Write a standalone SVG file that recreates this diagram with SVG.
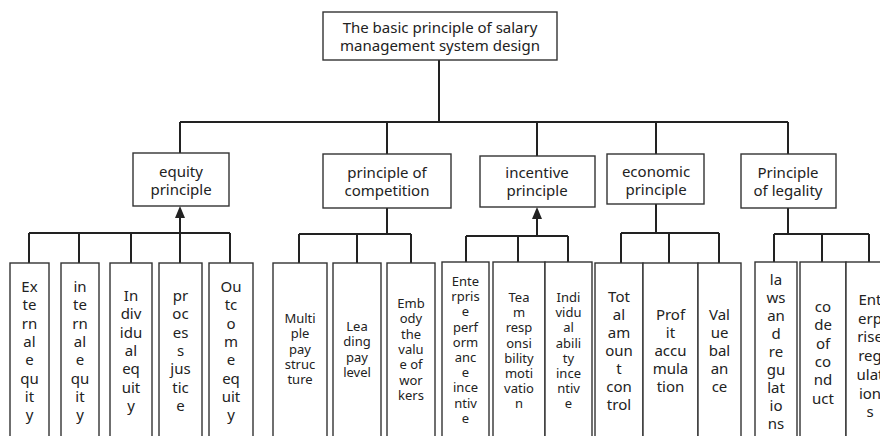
<svg xmlns="http://www.w3.org/2000/svg" width="880" height="436" viewBox="0 0 880 436">
<style>
.box{fill:#fff;stroke:#333;stroke-width:1.4}
.ln{fill:none;stroke:#222;stroke-width:2}
.t{font-family:"Noto Sans","Open Sans","DejaVu Sans",sans-serif;font-size:15px;fill:#222;text-anchor:middle}
.s{font-size:13px}
</style>
<defs>
<marker id="ah" viewBox="0 0 10 12" refX="5" refY="0" markerWidth="10" markerHeight="12" markerUnits="userSpaceOnUse" orient="auto-start-reverse">
<path d="M0,12 L5,0 L10,12 Z" fill="#222"/>
</marker>
</defs>
<rect width="880" height="436" fill="#fff"/>
<g id="connectors">
<path class="ln" d="M439,60 V122 M180,122 H788 M180,122 V153 M387,122 V154 M537,122 V156 M656,122 V154 M788,122 V154"/>
<path class="ln" d="M180,233 V218 M29,233 H230 M29,233 V263 M79,233 V263 M131,233 V263 M180,233 V263 M230,233 V263"/>
<path d="M180,206 L175,218 L185,218 Z" fill="#222"/>
<path class="ln" d="M387,208 V234 M299,234 H411 M299,234 V263 M357,234 V263 M411,234 V263"/>
<path class="ln" d="M537,219 V236 M466,236 H568 M466,236 V262 M518,236 V262 M568,236 V262"/>
<path d="M537,207 L532,219 L542,219 Z" fill="#222"/>
<path class="ln" d="M656,204 V233 M621,233 H719 M621,233 V263 M669,233 V263 M719,233 V263"/>
<path class="ln" d="M788,208 V234 M774,234 H869 M774,234 V262 M822,234 V262 M869,234 V262"/>
</g>
<g id="root">
<rect class="box" x="323" y="12" width="234" height="48"/>
<text class="t"><tspan x="440" y="33">The basic principle of salary</tspan><tspan x="440" y="51">management system design</tspan></text>
</g>
<g id="equity">
<rect class="box" x="133" y="153" width="96" height="53"/>
<text class="t"><tspan x="181" y="177">equity</tspan><tspan x="181" y="195">principle</tspan></text>
</g>
<g id="competition">
<rect class="box" x="323" y="154" width="128" height="54"/>
<text class="t"><tspan x="387" y="178">principle of</tspan><tspan x="387" y="196">competition</tspan></text>
</g>
<g id="incentive">
<rect class="box" x="480" y="156" width="115" height="51"/>
<text class="t"><tspan x="537" y="178">incentive</tspan><tspan x="537" y="196">principle</tspan></text>
</g>
<g id="economic">
<rect class="box" x="607" y="154" width="97" height="50"/>
<text class="t"><tspan x="656" y="177">economic</tspan><tspan x="656" y="195">principle</tspan></text>
</g>
<g id="legality">
<rect class="box" x="741" y="154" width="95" height="54"/>
<text class="t"><tspan x="788" y="178">Principle</tspan><tspan x="788" y="196">of legality</tspan></text>
</g>
<g id="leaf-external">
<rect class="box" x="10" y="263" width="39" height="180"/>
<text class="t"><tspan x="29.5" y="292">Ex</tspan><tspan x="29.5" dy="18.3">te</tspan><tspan x="29.5" dy="18.3">rn</tspan><tspan x="29.5" dy="18.3">al</tspan><tspan x="29.5" dy="18.3">e</tspan><tspan x="29.5" dy="18.3">qu</tspan><tspan x="29.5" dy="18.3">it</tspan><tspan x="29.5" dy="18.3">y</tspan></text>
</g>
<g id="leaf-internal">
<rect class="box" x="61" y="263" width="38" height="180"/>
<text class="t"><tspan x="80" y="292">in</tspan><tspan x="80" dy="18.3">te</tspan><tspan x="80" dy="18.3">rn</tspan><tspan x="80" dy="18.3">al</tspan><tspan x="80" dy="18.3">e</tspan><tspan x="80" dy="18.3">qu</tspan><tspan x="80" dy="18.3">it</tspan><tspan x="80" dy="18.3">y</tspan></text>
</g>
<g id="leaf-individual">
<rect class="box" x="110" y="263" width="42" height="180"/>
<text class="t"><tspan x="131" y="301">In</tspan><tspan x="131" dy="18.3">div</tspan><tspan x="131" dy="18.3">idu</tspan><tspan x="131" dy="18.3">al</tspan><tspan x="131" dy="18.3">eq</tspan><tspan x="131" dy="18.3">uit</tspan><tspan x="131" dy="18.3">y</tspan></text>
</g>
<g id="leaf-process">
<rect class="box" x="159" y="263" width="43" height="180"/>
<text class="t"><tspan x="180.5" y="301">pr</tspan><tspan x="180.5" dy="18.3">oc</tspan><tspan x="180.5" dy="18.3">es</tspan><tspan x="180.5" dy="18.3">s</tspan><tspan x="180.5" dy="18.3">jus</tspan><tspan x="180.5" dy="18.3">tic</tspan><tspan x="180.5" dy="18.3">e</tspan></text>
</g>
<g id="leaf-outcome">
<rect class="box" x="209" y="263" width="44" height="180"/>
<text class="t"><tspan x="231" y="292">Ou</tspan><tspan x="231" dy="18.3">tc</tspan><tspan x="231" dy="18.3">o</tspan><tspan x="231" dy="18.3">m</tspan><tspan x="231" dy="18.3">e</tspan><tspan x="231" dy="18.3">eq</tspan><tspan x="231" dy="18.3">uit</tspan><tspan x="231" dy="18.3">y</tspan></text>
</g>
<g id="leaf-multiple">
<rect class="box" x="273" y="263" width="54" height="180"/>
<text class="t s"><tspan x="300" y="323">Multi</tspan><tspan x="300" dy="15.3">ple</tspan><tspan x="300" dy="15.3">pay</tspan><tspan x="300" dy="15.3">struc</tspan><tspan x="300" dy="15.3">ture</tspan></text>
</g>
<g id="leaf-leading">
<rect class="box" x="333" y="263" width="48" height="180"/>
<text class="t s"><tspan x="357" y="331">Lea</tspan><tspan x="357" dy="15.3">ding</tspan><tspan x="357" dy="15.3">pay</tspan><tspan x="357" dy="15.3">level</tspan></text>
</g>
<g id="leaf-embody">
<rect class="box" x="387" y="263" width="48" height="180"/>
<text class="t s"><tspan x="411" y="308">Emb</tspan><tspan x="411" dy="15.3">ody</tspan><tspan x="411" dy="15.3">the</tspan><tspan x="411" dy="15.3">valu</tspan><tspan x="411" dy="15.3">e of</tspan><tspan x="411" dy="15.3">wor</tspan><tspan x="411" dy="15.3">kers</tspan></text>
</g>
<g id="leaf-enterprise-incentive">
<rect class="box" x="442" y="262" width="47" height="180"/>
<text class="t s"><tspan x="465.5" y="286">Ente</tspan><tspan x="465.5" dy="15.2">rpris</tspan><tspan x="465.5" dy="15.2">e</tspan><tspan x="465.5" dy="15.2">perf</tspan><tspan x="465.5" dy="15.2">orm</tspan><tspan x="465.5" dy="15.2">anc</tspan><tspan x="465.5" dy="15.2">e</tspan><tspan x="465.5" dy="15.2">ince</tspan><tspan x="465.5" dy="15.2">ntiv</tspan><tspan x="465.5" dy="15.2">e</tspan></text>
</g>
<g id="leaf-team">
<rect class="box" x="493" y="262" width="52" height="180"/>
<text class="t s"><tspan x="519" y="302">Tea</tspan><tspan x="519" dy="15.2">m</tspan><tspan x="519" dy="15.2">resp</tspan><tspan x="519" dy="15.2">onsi</tspan><tspan x="519" dy="15.2">bility</tspan><tspan x="519" dy="15.2">moti</tspan><tspan x="519" dy="15.2">vatio</tspan><tspan x="519" dy="15.2">n</tspan></text>
</g>
<g id="leaf-ability">
<rect class="box" x="545" y="262" width="47" height="180"/>
<text class="t s"><tspan x="568.5" y="302">Indi</tspan><tspan x="568.5" dy="15.2">vidu</tspan><tspan x="568.5" dy="15.2">al</tspan><tspan x="568.5" dy="15.2">abili</tspan><tspan x="568.5" dy="15.2">ty</tspan><tspan x="568.5" dy="15.2">ince</tspan><tspan x="568.5" dy="15.2">ntiv</tspan><tspan x="568.5" dy="15.2">e</tspan></text>
</g>
<g id="leaf-total">
<rect class="box" x="595" y="263" width="48" height="180"/>
<text class="t"><tspan x="619" y="302">Tot</tspan><tspan x="619" dy="18">al</tspan><tspan x="619" dy="18">am</tspan><tspan x="619" dy="18">oun</tspan><tspan x="619" dy="18">t</tspan><tspan x="619" dy="18">con</tspan><tspan x="619" dy="18">trol</tspan></text>
</g>
<g id="leaf-profit">
<rect class="box" x="643" y="263" width="55" height="180"/>
<text class="t"><tspan x="670.5" y="320">Prof</tspan><tspan x="670.5" dy="18">it</tspan><tspan x="670.5" dy="18">accu</tspan><tspan x="670.5" dy="18">mula</tspan><tspan x="670.5" dy="18">tion</tspan></text>
</g>
<g id="leaf-value">
<rect class="box" x="698" y="263" width="43" height="180"/>
<text class="t"><tspan x="719.5" y="320">Val</tspan><tspan x="719.5" dy="18">ue</tspan><tspan x="719.5" dy="18">bal</tspan><tspan x="719.5" dy="18">an</tspan><tspan x="719.5" dy="18">ce</tspan></text>
</g>
<g id="leaf-laws">
<rect class="box" x="755" y="262" width="42" height="180"/>
<text class="t"><tspan x="776" y="285">la</tspan><tspan x="776" dy="18">ws</tspan><tspan x="776" dy="18">an</tspan><tspan x="776" dy="18">d</tspan><tspan x="776" dy="18">re</tspan><tspan x="776" dy="18">gu</tspan><tspan x="776" dy="18">lat</tspan><tspan x="776" dy="18">io</tspan><tspan x="776" dy="18">ns</tspan></text>
</g>
<g id="leaf-code">
<rect class="box" x="800" y="262" width="46" height="180"/>
<text class="t"><tspan x="823" y="312">co</tspan><tspan x="823" dy="18.3">de</tspan><tspan x="823" dy="18.3">of</tspan><tspan x="823" dy="18.3">co</tspan><tspan x="823" dy="18.3">nd</tspan><tspan x="823" dy="18.3">uct</tspan></text>
</g>
<g id="leaf-enterprise-regulations">
<rect class="box" x="846" y="262" width="48" height="180"/>
<text class="t"><tspan x="870" y="305">Ent</tspan><tspan x="870" dy="18.7">erp</tspan><tspan x="870" dy="18.7">rise</tspan><tspan x="870" dy="18.7">reg</tspan><tspan x="870" dy="18.7">ulat</tspan><tspan x="870" dy="18.7">ion</tspan><tspan x="870" dy="18.7">s</tspan></text>
</g>
</svg>
